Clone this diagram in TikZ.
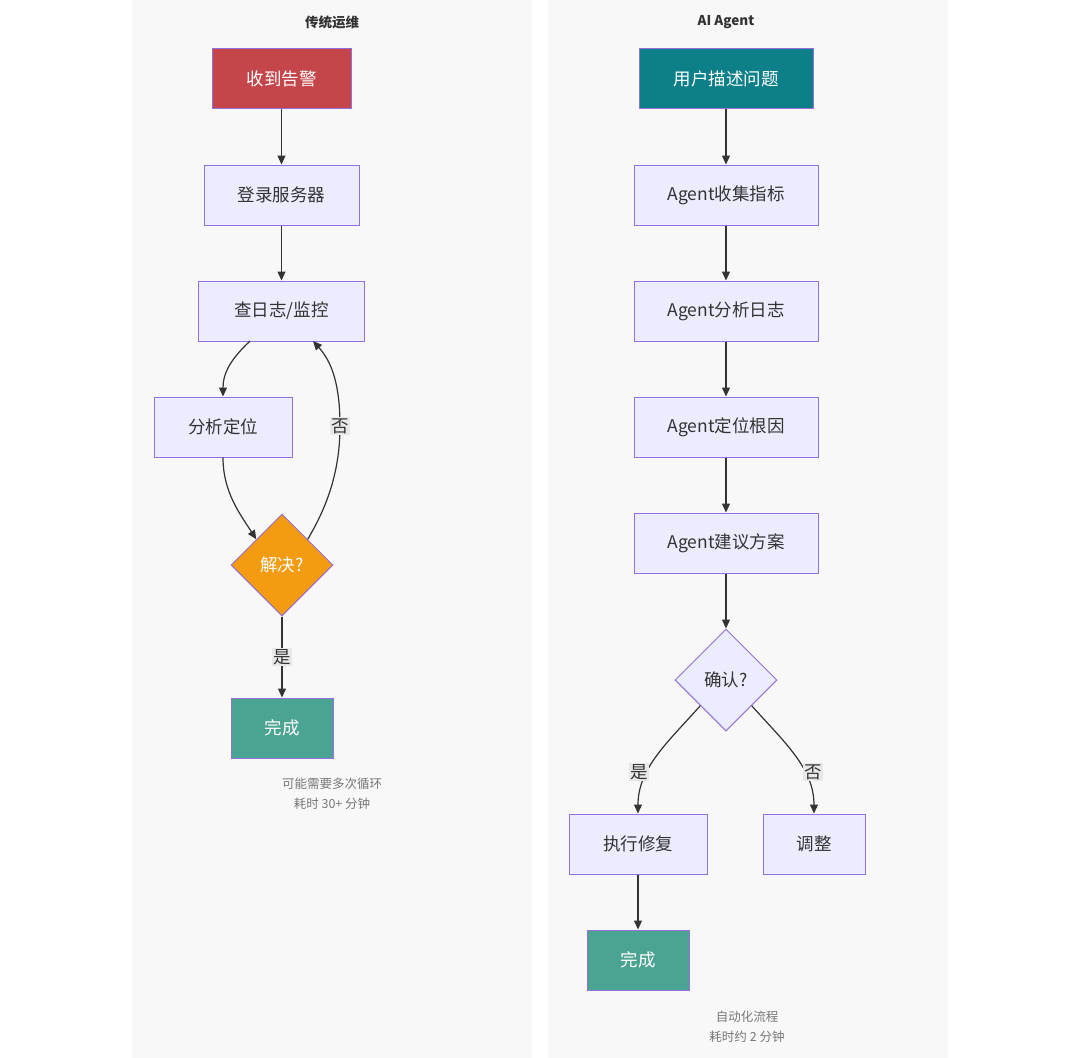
\documentclass[tikz,border=0pt]{standalone}
\usepackage{fontspec}
\setmainfont{Noto Sans CJK SC}
\usetikzlibrary{arrows.meta,shapes.geometric}
\definecolor{panel}{HTML}{F8F8F9}
\definecolor{nodefill}{HTML}{ECECFF}
\definecolor{nodeline}{HTML}{9370DB}
\definecolor{redfill}{HTML}{C4464A}
\definecolor{tealfill}{HTML}{0C7F89}
\definecolor{greenfill}{HTML}{4BA391}
\definecolor{orangefill}{HTML}{F39C12}
\definecolor{edgecol}{HTML}{333333}
\definecolor{textcol}{HTML}{333333}
\definecolor{labelbg}{HTML}{E8E8E8}
\definecolor{notecol}{HTML}{777777}
\tikzset{
  box/.style={draw=nodeline, line width=1pt, fill=nodefill, rectangle, minimum height=60pt, inner sep=0pt, text=textcol, font=\fontsize{17.5}{20}\selectfont},
  dia/.style={draw=nodeline, line width=1pt, fill=nodefill, diamond, minimum width=102pt, minimum height=102pt, inner sep=0pt, text=textcol, font=\fontsize{17.5}{20}\selectfont},
  wtext/.style={text=white},
  conn/.style={draw=edgecol, line width=1.2pt, -{Triangle[length=9pt,width=8pt]}},
  elabel/.style={fill=labelbg, text=textcol, inner sep=1.5pt, font=\fontsize{17.5}{20}\selectfont},
  title/.style={text=textcol, font=\bfseries\fontsize{13.5}{16}\selectfont},
  note/.style={text=notecol, align=center, font=\fontsize{12.5}{20}\selectfont}
}
\begin{document}
\begin{tikzpicture}[x=1pt,y=-1pt]
\useasboundingbox (0,0) rectangle (1080,1058);
\fill[white] (0,0) rectangle (1080,1058);
\fill[panel] (132,0) rectangle (532,1058);
\fill[panel] (548,0) rectangle (948,1058);

% left panel
\node[title] (t1) at (332,22) {传统运维};
\node[box, fill=redfill, wtext, minimum width=139pt] (a1) at (281.5,78.5) {收到告警};
\node[box, minimum width=155pt] (a2) at (281.5,195) {登录服务器};
\node[box, minimum width=166pt] (a3) at (281.5,311) {查日志/监控};
\node[box, minimum width=138pt] (a4) at (223,427) {分析定位};
\node[dia, fill=orangefill, wtext] (a5) at (282,565) {解决?};
\node[box, fill=greenfill, wtext, minimum width=102pt] (a6) at (282,728) {完成};
\node[note] (n1) at (332,794) {可能需要多次循环\\耗时 30+ 分钟};

\draw[conn] (a1.south) -- (a2.north);
\draw[conn] (a2.south) -- (a3.north);
\draw[conn] (250,341) .. controls (232,358) and (223,372) .. (a4.north);
\draw[conn] (a4.south) .. controls (223,492) and (240,514) .. (a5.north west);
\draw[conn] (a5.north east) .. controls (328,505) and (340,470) .. (340,426) .. controls (340,385) and (332,362) .. (313,341);
\node[elabel] (l1) at (340,426) {否};
\draw[conn] (a5.south) -- (a6.north);
\node[elabel] (l2) at (282,657) {是};

% right panel
\node[title] (t2) at (726,22) {AI Agent};
\node[box, fill=tealfill, wtext, minimum width=174pt] (b1) at (726,78.5) {用户描述问题};
\node[box, minimum width=184pt] (b2) at (726,195) {Agent收集指标};
\node[box, minimum width=184pt] (b3) at (726,311) {Agent分析日志};
\node[box, minimum width=184pt] (b4) at (726,427) {Agent定位根因};
\node[box, minimum width=184pt] (b5) at (726,543) {Agent建议方案};
\node[dia] (b6) at (726,680) {确认?};
\node[box, minimum width=138pt] (b7) at (638,844) {执行修复};
\node[box, minimum width=102pt] (b8) at (814,844) {调整};
\node[box, fill=greenfill, wtext, minimum width=102pt] (b9) at (638,960) {完成};
\node[note] (n2) at (747,1027) {自动化流程\\耗时约 2 分钟};

\draw[conn] (b1.south) -- (b2.north);
\draw[conn] (b2.south) -- (b3.north);
\draw[conn] (b3.south) -- (b4.north);
\draw[conn] (b4.south) -- (b5.north);
\draw[conn] (b5.south) -- (b6.north);
\draw[conn] (b6.south west) .. controls (668,742) and (638,768) .. (b7.north);
\node[elabel] (l3) at (639,772) {是};
\draw[conn] (b6.south east) .. controls (784,742) and (814,768) .. (b8.north);
\node[elabel] (l4) at (813,772) {否};
\draw[conn] (b7.south) -- (b9.north);
\end{tikzpicture}
\end{document}
